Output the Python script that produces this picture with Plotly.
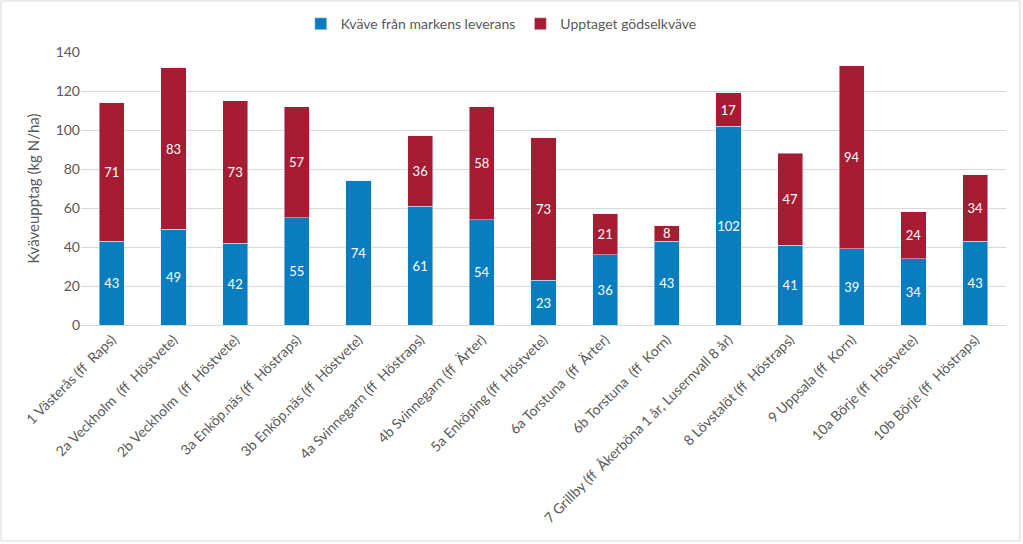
import plotly.graph_objects as go

categories = [
    "1 Västerås (ff  Raps)",
    "2a Veckholm  (ff  Höstvete)",
    "2b Veckholm  (ff  Höstvete)",
    "3a Enköp.näs (ff  Höstraps)",
    "3b Enköp.näs (ff  Höstvete)",
    "4a Svinnegarn (ff  Höstraps)",
    "4b Svinnegarn (ff  Ärter)",
    "5a Enköping (ff  Höstvete)",
    "6a Torstuna  (ff  Ärter)",
    "6b Torstuna  (ff  Korn)",
    "7 Grillby (ff  Åkerböna 1 år, Lusernvall 8 år)",
    "8 Lövstalöt (ff  Höstraps)",
    "9 Uppsala (ff  Korn)",
    "10a Börje (ff  Höstvete)",
    "10b Börje (ff  Höstraps)",
]
mark_supply = [43, 49, 42, 55, 74, 61, 54, 23, 36, 43, 102, 41, 39, 34, 43]
fert_uptake = [71, 83, 73, 57, None, 36, 58, 73, 21, 8, 17, 47, 94, 24, 34]

series_names = ["Kväve från markens leverans", "Upptaget gödselkväve"]
colors = ["#0A7DBF", "#A61C33"]
y_ticks = [0, 20, 40, 60, 80, 100, 120, 140]

FONT = "Lato, 'Open Sans', sans-serif"

fig = go.Figure()
for name, vals, col in zip(series_names, [mark_supply, fert_uptake], colors):
    fig.add_trace(go.Bar(
        x=categories, y=vals, name=name, marker_color=col,
        text=[("" if v is None else str(v)) for v in vals],
        textposition="inside", insidetextanchor="middle",
        constraintext="none", textangle=0,
        textfont=dict(color="white", size=13, family=FONT),
        hoverinfo="x+y+name",
    ))

fig.update_layout(
    barmode="stack",
    bargap=0.59,
    width=1023, height=544,
    paper_bgcolor="white", plot_bgcolor="white",
    margin=dict(l=81, r=17, t=52, b=219, autoexpand=False),
    font=dict(family=FONT, color="#595959", size=13),
    legend=dict(orientation="h", x=0.49, xanchor="center", xref="container",
                y=0.985, yanchor="top", yref="container",
                font=dict(size=14, color="#595959"),
                traceorder="normal"),
    showlegend=True,
    xaxis=dict(tickangle=-45, tickfont=dict(size=14, color="#595959"),
               showline=True, linecolor="#D9D9D9", linewidth=1, ticks="",
               automargin=False),
    yaxis=dict(range=[0, 140], tickvals=y_ticks, showgrid=True, gridcolor="#D9D9D9",
               gridwidth=1, zeroline=False, ticks="", ticklen=0, automargin=False,
               tickfont=dict(size=14, color="#595959"),
               title=dict(text="Kväveupptag (kg N/ha)", font=dict(size=15, color="#595959"), standoff=12)),
    shapes=[dict(type="rect", xref="paper", yref="paper",
                 x0=-0.0865, x1=1.015, y0=-0.791, y1=1.187,
                 line=dict(color="#D9D9D9", width=1), layer="below")],
)

fig.write_html("out.html", config={"displayModeBar": False},
               post_script="document.body.style.margin='0';document.body.style.padding='0';")
